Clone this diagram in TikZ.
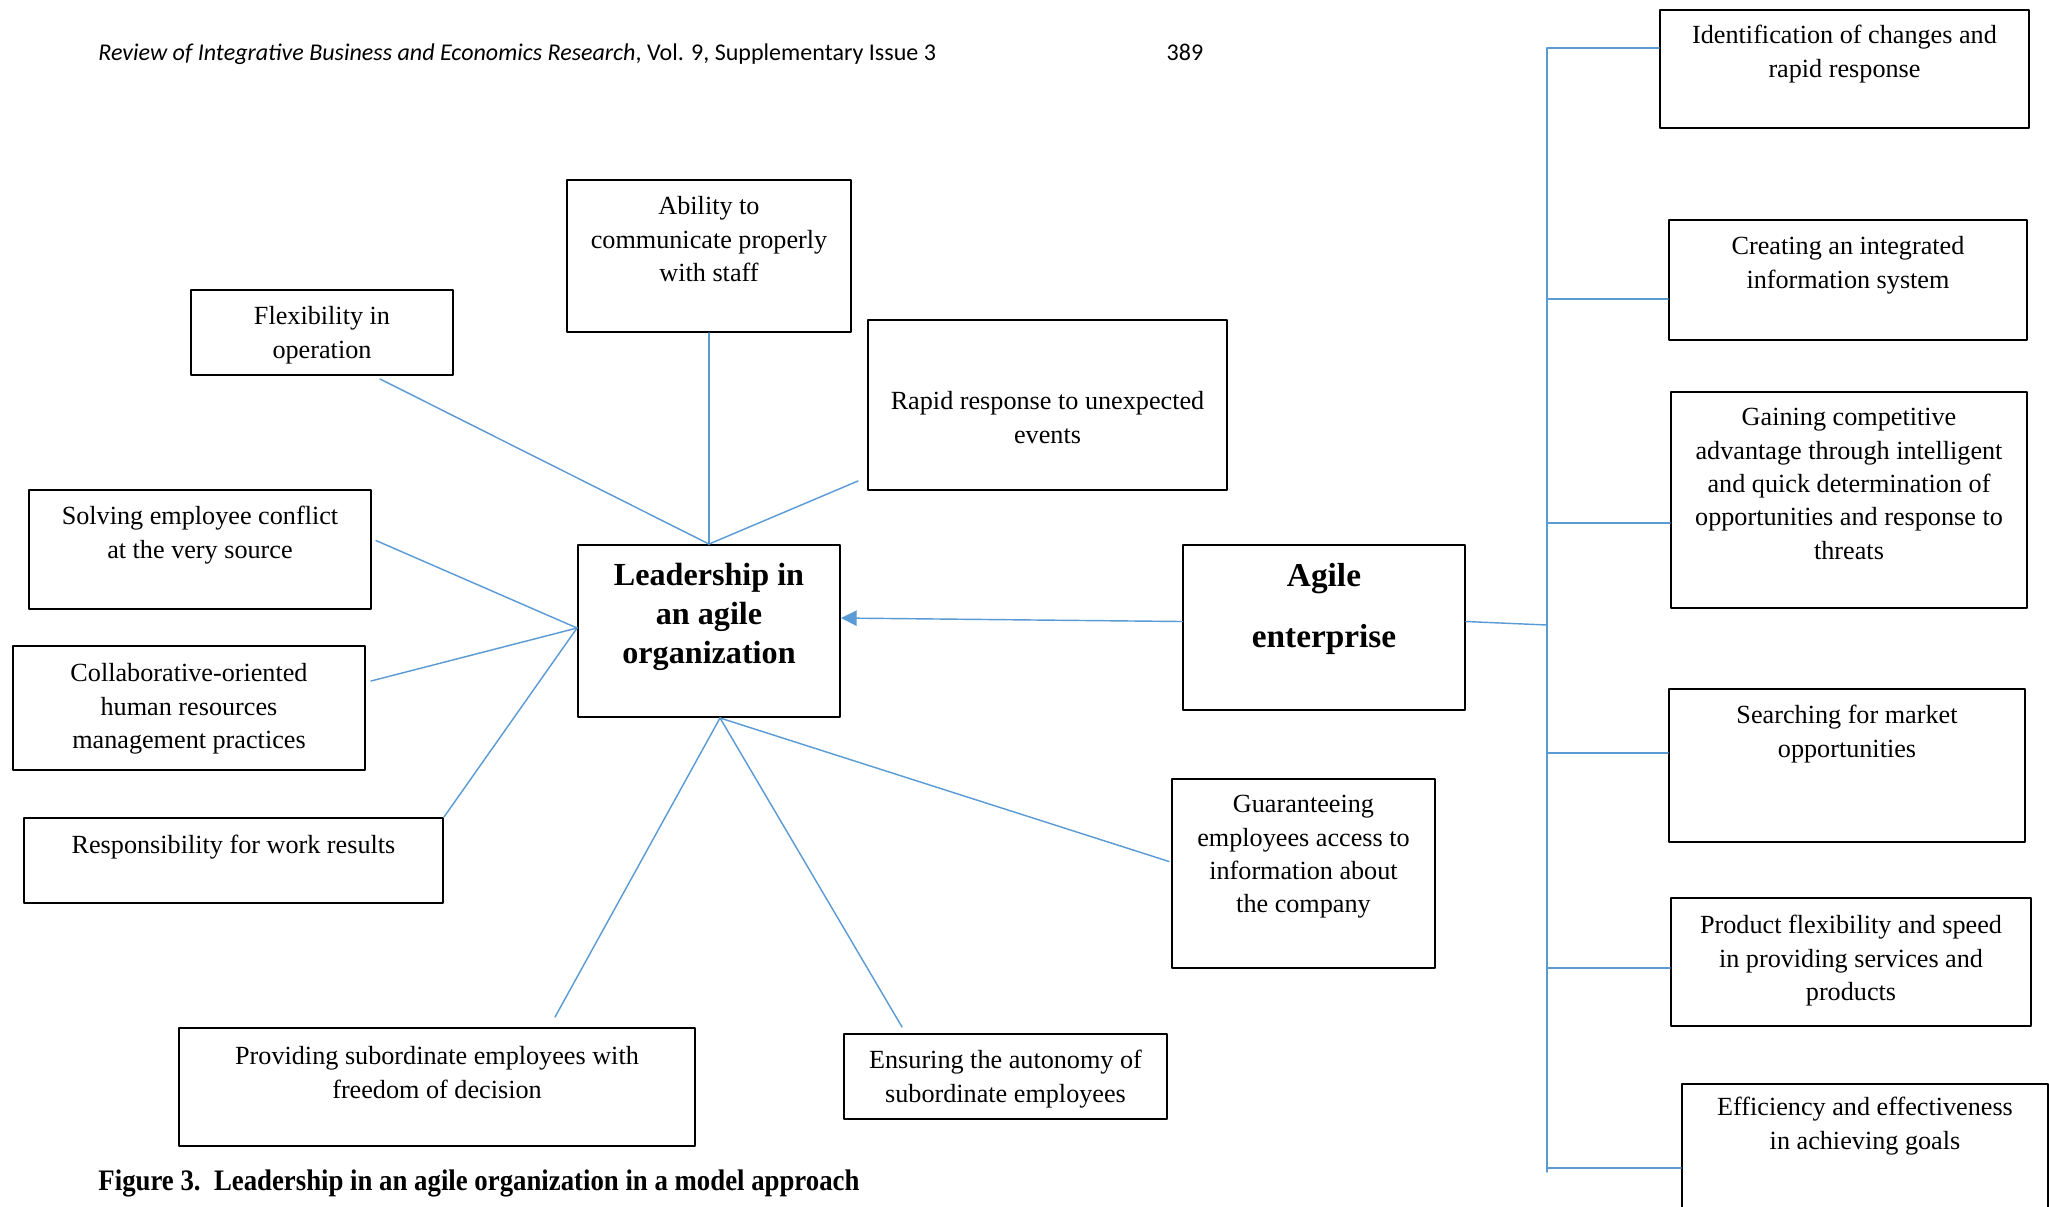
\documentclass[tikz,border=0pt]{standalone}
\usepackage{fontspec}
\setmainfont{Liberation Serif}
\newfontfamily\headfont{Carlito}
\usetikzlibrary{arrows.meta,fit,calc}
\definecolor{linkblue}{RGB}{91,155,213}
\tikzset{
  box/.style={draw=black,line width=0.8pt,inner sep=0pt},
  txt/.style={anchor=north,align=center,inner sep=0pt,font=\fontsize{11}{14}\selectfont},
  boldtxt/.style={txt,font=\fontsize{13.5}{16.4}\selectfont\bfseries},
  link/.style={draw=linkblue,line width=0.6pt}
}
\begin{document}
\begin{tikzpicture}[x=0.42pt,y=-0.42pt,line cap=round,line join=round,>={Triangle[length=6.6pt,width=6.4pt]}]
\clip (0,0) rectangle (2049,1206);
\fill[white] (0,0) rectangle (2049,1206);
\node[anchor=base west,inner sep=0pt,font=\headfont\fontsize{10.1}{12}\selectfont] (head) at (98,60) {\textit{Review of Integrative Business and Economics Research}, Vol. 9, Supplementary Issue 3};
\node[anchor=base,inner sep=0pt,font=\headfont\fontsize{10.1}{12}\selectfont] (pageno) at (1185,60) {389};
\node[box,fit={(578,545) (840,717)}] (lead) {};
\node[boldtxt] (lead-t) at ($(lead.north)+(0,19)$) {Leadership in\\an agile\\organization};
\node[box,fit={(1183,545) (1465,710)}] (agile) {};
\node[boldtxt,font=\fontsize{14}{25.6}\selectfont\bfseries] (agile-t) at ($(agile.north)+(0,19)$) {Agile\\enterprise};
\node[box,fit={(567,180) (851,332)}] (abil) {};
\node[txt] (abil-t) at ($(abil.north)+(0,17)$) {Ability to\\communicate properly\\with staff};
\node[box,fit={(191,290) (453,375)}] (flex) {};
\node[txt] (flex-t) at ($(flex.north)+(0,17)$) {Flexibility in\\operation};
\node[box,fit={(868,320) (1227,490)}] (rapid) {};
\node[txt] (rapid-t) at ($(rapid.north)+(0,72)$) {Rapid response to unexpected\\events};
\node[box,fit={(29,490) (371,609)}] (solv) {};
\node[txt] (solv-t) at ($(solv.north)+(0,17)$) {Solving employee conflict\\at the very source};
\node[box,fit={(13,646) (365,770)}] (coll) {};
\node[txt] (coll-t) at ($(coll.north)+(0,18)$) {Collaborative-oriented\\human resources\\management practices};
\node[box,fit={(24,818) (443,903)}] (resp) {};
\node[txt] (resp-t) at ($(resp.north)+(0,18)$) {Responsibility for work results};
\node[box,fit={(1172,779) (1435,968)}] (guar) {};
\node[txt] (guar-t) at ($(guar.north)+(0,17)$) {Guaranteeing\\employees access to\\information about\\the company};
\node[box,fit={(179,1028) (695,1146)}] (prov) {};
\node[txt] (prov-t) at ($(prov.north)+(0,19)$) {Providing subordinate employees with\\freedom of decision};
\node[box,fit={(844,1034) (1167,1119)}] (ens) {};
\node[txt] (ens-t) at ($(ens.north)+(0,17)$) {Ensuring the autonomy of\\subordinate employees};
\node[box,fit={(1660,10) (2029,128)}] (ident) {};
\node[txt] (ident-t) at ($(ident.north)+(0,16)$) {Identification of changes and\\rapid response};
\node[box,fit={(1669,220) (2027,340)}] (creat) {};
\node[txt] (creat-t) at ($(creat.north)+(0,17)$) {Creating an integrated\\information system};
\node[box,fit={(1671,392) (2027,608)}] (gain) {};
\node[txt] (gain-t) at ($(gain.north)+(0,17)$) {Gaining competitive\\advantage through intelligent\\and quick determination of\\opportunities and response to\\threats};
\node[box,fit={(1669,689) (2025,842)}] (search) {};
\node[txt] (search-t) at ($(search.north)+(0,17)$) {Searching for market\\opportunities};
\node[box,fit={(1671,898) (2031,1026)}] (prod) {};
\node[txt] (prod-t) at ($(prod.north)+(0,18)$) {Product flexibility and speed\\in providing services and\\products};
\node[box,fit={(1682,1084) (2048,1260)}] (effic) {};
\node[txt] (effic-t) at ($(effic.north)+(0,14)$) {Efficiency and effectiveness\\in achieving goals};
\coordinate (lead-s) at ($(lead.south)+(11,0)$);
\coordinate (lead-e) at ($(lead.east)+(0,-13)$);
\coordinate (agile-w) at ($(agile.west)+(0,-6)$);
\coordinate (agile-e) at ($(agile.east)+(0,-6)$);
\coordinate (hub) at (1547,625);
\coordinate (b1) at (1547,48);
\coordinate (b2) at (1547,299);
\coordinate (b3) at (1547,523);
\coordinate (b4) at (1547,753);
\coordinate (b5) at (1547,968);
\coordinate (b6) at (1547,1168);
\coordinate (busend) at (1547,1172);
\draw[link] ($(flex.south)+(58,3)$) -- (lead.north);
\draw[link] (abil.south) -- (abil.south |- lead.north);
\draw[link] ($(rapid.south west)+(-9,-10)$) -- (lead.north);
\draw[link] ($(solv.east)+(4,-9)$) -- ($(lead.west)+(0,-3)$);
\draw[link] ($(coll.east)+(5,-27)$) -- ($(lead.west)+(0,-3)$);
\draw[link] (resp.north east) -- ($(lead.west)+(0,-3)$);
\draw[link] ($(guar.west)+(-2,-12)$) -- (lead-s);
\draw[link] ($(prov.north)+(118,-10)$) -- (lead-s);
\draw[link] ($(ens.north west)+(59,-6)$) -- (lead-s);
\draw[link,->] (agile-w) -- (lead-e);
\draw[link] (agile-e) -- (hub);
\draw[link] (b1) -- (busend);
\draw[link] (b1) -- (b1 -| ident.west);
\draw[link] (b2) -- (b2 -| creat.west);
\draw[link] (b3) -- (b3 -| gain.west);
\draw[link] (b4) -- (b4 -| search.west);
\draw[link] (b5) -- (b5 -| prod.west);
\draw[link] (b6) -- (b6 -| effic.west);
\node[anchor=base west,inner sep=0pt] (caption) at (98,1190) {\scalebox{0.9}[1]{\fontsize{12.5}{14}\selectfont\bfseries Figure 3.\ \ Leadership in an agile organization in a model approach}};
\end{tikzpicture}
\end{document}
